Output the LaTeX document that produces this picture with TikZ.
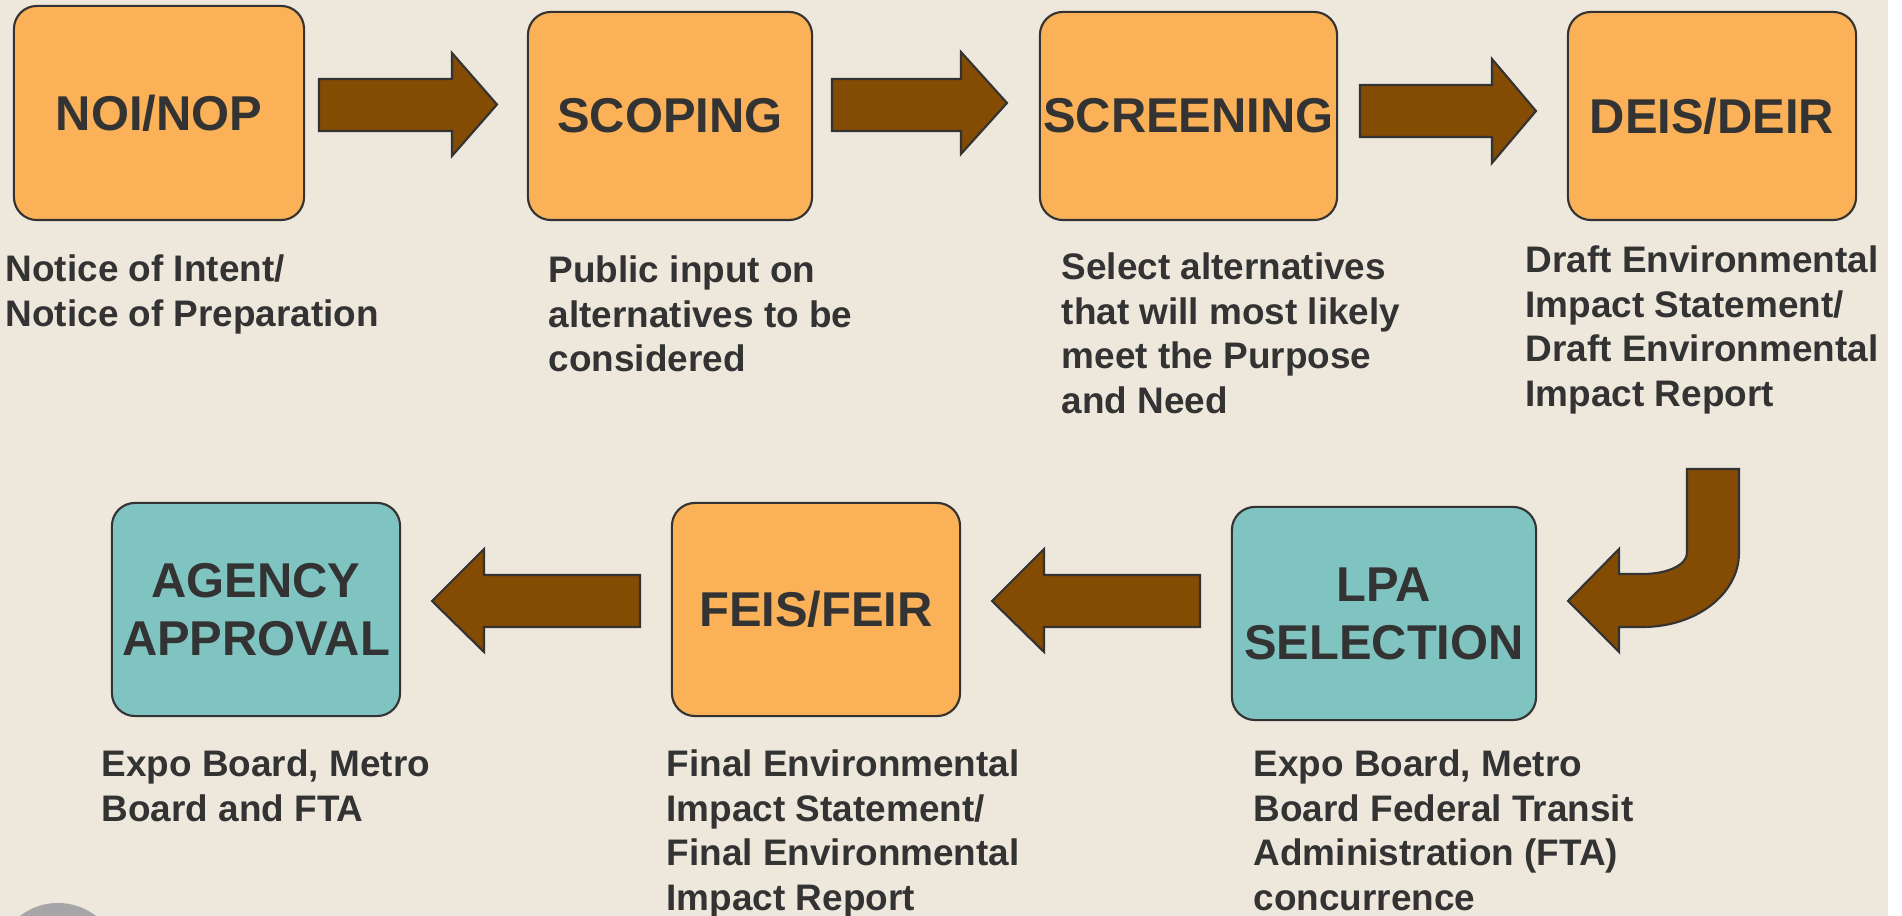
\documentclass[tikz,border=0pt]{standalone}
\usepackage{fontspec}
\setmainfont{Liberation Sans}
\definecolor{paper}{RGB}{238,232,220}
\definecolor{boxorange}{RGB}{251,177,87}
\definecolor{boxteal}{RGB}{127,196,193}
\definecolor{arrowbrown}{RGB}{132,75,2}
\definecolor{inkgrey}{RGB}{51,51,51}
\definecolor{dotgrey}{RGB}{166,166,169}

\begin{document}
\begin{tikzpicture}[x=0.01cm,y=-0.01cm,
    stage/.style={draw=inkgrey, line width=0.6pt, rounded corners=0.23cm,
      inner sep=0pt, align=center, text=inkgrey,
      font=\fontsize{13.9}{16.5}\selectfont\bfseries},
    orangestage/.style={stage, fill=boxorange},
    tealstage/.style={stage, fill=boxteal},
    note/.style={anchor=base west, align=left, inner sep=0pt, text=inkgrey,
      font=\fontsize{10.5}{12.66}\selectfont\bfseries},
    blockarrow/.style={draw=inkgrey, line width=0.6pt, fill=arrowbrown, line join=miter}]
   \useasboundingbox (0,0) rectangle (1902,916);
   \fill[paper] (0,0) rectangle (1888,916);
   \fill[white] (1888,0) rectangle (1902,916);
   \begin{scope}
    \clip (0,0) rectangle (1902,916);
    \fill[dotgrey] (58,965) circle (0.62cm);
   \end{scope}

   % top row
   \node[orangestage, minimum width=2.90cm, minimum height=2.14cm] (noi) at (159,113) {NOI/NOP};
   \node[orangestage, minimum width=2.84cm, minimum height=2.08cm] (scoping) at (670,116) {SCOPING};
   \node[orangestage, minimum width=2.97cm, minimum height=2.08cm] (screening) at (1188.5,116) {SCREENING};
   \node[orangestage, minimum width=2.88cm, minimum height=2.08cm] (deis) at (1712,116) {DEIS/DEIR};

   \draw[blockarrow] (319,79) -- (452,79) -- (452,53) -- (497,104.5) -- (452,156) -- (452,131) -- (319,131) -- cycle;
   \draw[blockarrow] (832,79) -- (961,79) -- (961,52) -- (1007,103) -- (961,154) -- (961,131) -- (832,131) -- cycle;
   \draw[blockarrow] (1360,85) -- (1492,85) -- (1492,59) -- (1536,111) -- (1492,163) -- (1492,137) -- (1360,137) -- cycle;

   % notes: anchored at the baseline of their last line
   \node[note] (noitext) at (5,326.5) {Notice of Intent/\\Notice of Preparation};
   \node[note] (scopingtext) at (548,372) {Public input on\\alternatives to be\\considered};
   \node[note] (screeningtext) at (1061,413.5) {Select alternatives\\that will most likely\\meet the Purpose\\and Need};
   \node[note] (deistext) at (1525,406.5) {Draft Environmental\\Impact Statement/\\Draft Environmental\\Impact Report};

   % bent arrow down to the second row
   \draw[blockarrow] (1687,469) -- (1739,469) -- (1739,553)
     .. controls (1739,594) and (1696,627) .. (1643,627) -- (1619,627) -- (1619,652)
     -- (1568,601) -- (1619,549) -- (1619,574) -- (1643,574)
     .. controls (1667,574) and (1687,565) .. (1687,553) -- cycle;

   % bottom row
   \node[tealstage, minimum width=2.88cm, minimum height=2.13cm] (agency) at (256,609.5) {AGENCY\\APPROVAL};
   \node[orangestage, minimum width=2.88cm, minimum height=2.13cm] (feis) at (816,609.5) {FEIS/FEIR};
   \node[tealstage, minimum width=3.04cm, minimum height=2.13cm] (lpa) at (1384,613.5) {LPA\\SELECTION};

   \draw[blockarrow] (640,575) -- (484,575) -- (484,549) -- (432,601) -- (484,652) -- (484,627) -- (640,627) -- cycle;
   \draw[blockarrow] (1200,575) -- (1044,575) -- (1044,549) -- (992,601) -- (1044,652) -- (1044,627) -- (1200,627) -- cycle;

   \node[note] (agencytext) at (101,821.5) {Expo Board, Metro\\Board and FTA};
   \node[note] (feistext) at (666,910.5) {Final Environmental\\Impact Statement/\\Final Environmental\\Impact Report};
   \node[note] (lpatext) at (1253,910.5) {Expo Board, Metro\\Board Federal Transit\\Administration (FTA)\\concurrence};
  \end{tikzpicture}
\end{document}
